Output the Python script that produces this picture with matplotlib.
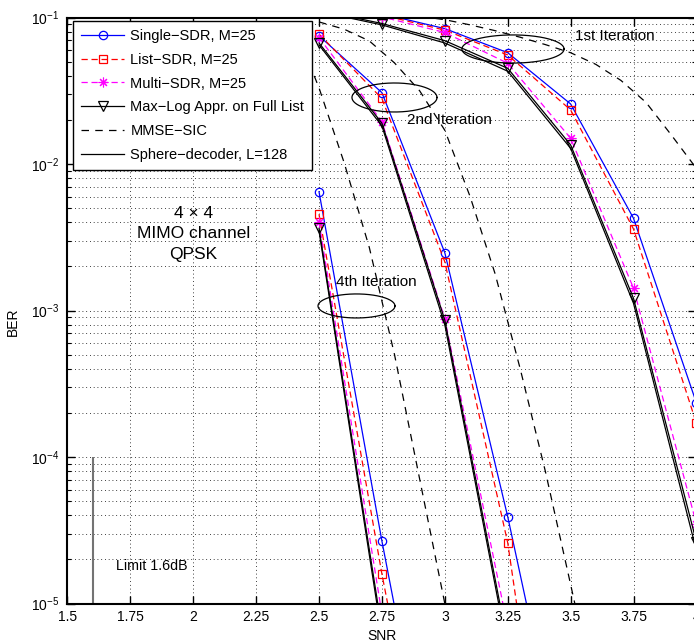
import numpy as np
import matplotlib
matplotlib.use("Agg")
import matplotlib.pyplot as plt
from matplotlib.ticker import FixedLocator, FixedFormatter, LogLocator, NullFormatter

plt.rcParams['font.family'] = ['Liberation Sans', 'DejaVu Sans']
plt.rcParams['mathtext.fontset'] = 'custom'
plt.rcParams['mathtext.rm'] = 'Liberation Sans'
plt.rcParams['mathtext.it'] = 'Liberation Sans:italic'
plt.rcParams['mathtext.bf'] = 'Liberation Sans:bold'

# ---------------- data ----------------
snr_it1 = [2.5, 2.75, 3.0, 3.25, 3.5, 3.75, 4.0]
single_it1 = [0.125, 0.106, 8.4e-2, 5.75e-2, 2.57e-2, 4.26e-3, 2.34e-4]
list_it1 = [0.123, 0.104, 8.2e-2, 5.55e-2, 2.34e-2, 3.6e-3, 1.7e-4]
multi_it1 = [0.118, 0.101, 7.9e-2, 4.87e-2, 1.5e-2, 1.42e-3, 3.5e-5]
maxlog_it1 = [0.112, 9.1e-2, 6.95e-2, 4.5e-2, 1.35e-2, 1.21e-3, 2.64e-5]
sphere_it1 = [0.110, 8.9e-2, 6.7e-2, 4.3e-2, 1.28e-2, 1.12e-3, 2.3e-5]

snr_it2 = [2.5, 2.75, 3.0, 3.25, 3.5]
single_it2 = [7.5e-2, 3.07e-2, 2.48e-3, 3.92e-5, 4e-7]
list_it2 = [7.7e-2, 2.8e-2, 2.15e-3, 2.6e-5, 3e-8]
multi_it2 = [7.3e-2, 1.95e-2, 8.8e-4, 6.9e-6, 1e-8]
maxlog_it2 = [6.7e-2, 1.9e-2, 8.6e-4, 5.3e-6, 1e-8]
sphere_it2 = [6.5e-2, 1.82e-2, 8.0e-4, 4.8e-6, 1e-8]

snr_it4 = [2.5, 2.75, 3.0]
single_it4 = [6.47e-3, 2.67e-5, 1.6e-7]
list_it4 = [4.54e-3, 1.59e-5, 1e-7]
multi_it4 = [4.03e-3, 8.5e-6, 5e-8]
maxlog_it4 = [3.64e-3, 6.6e-6, 4e-8]
sphere_it4 = [3.5e-3, 6.0e-6, 3e-8]

snr_mmse1 = [2.8, 2.9, 3.0, 3.1, 3.2, 3.3, 3.4, 3.5, 3.6, 3.7, 3.8, 3.9, 4.0, 4.1]
mmse_it1 = [0.107, 0.102, 0.0966, 0.0891, 0.0813, 0.0733, 0.0653, 0.0575,
            0.0479, 0.0372, 0.0263, 0.0158, 0.00933, 0.0050]
snr_mmse2 = [2.5, 2.6, 2.7, 2.8, 2.9, 3.0, 3.1, 3.2, 3.3, 3.4, 3.5, 3.6]
mmse_it2 = [0.0933, 0.0832, 0.0692, 0.0490, 0.0316, 0.0170, 6.03e-3, 1.78e-3,
            3.98e-4, 7.94e-5, 1.35e-5, 2.24e-6]
snr_mmse4 = [2.4, 2.5, 2.6, 2.7, 2.8, 2.9, 3.0, 3.1]
mmse_it4 = [0.0891, 0.0331, 0.0102, 2.69e-3, 5.01e-4, 7.08e-5, 1.0e-5, 1.41e-6]

limit_snr = 1.6
limit_ber = [1e-5, 1e-4]

xtick_vals = [1.5, 1.75, 2.0, 2.25, 2.5, 2.75, 3.0, 3.25, 3.5, 3.75, 4.0]
xtick_labels = ['1.5', '1.75', '2', '2.25', '2.5', '2.75', '3', '3.25', '3.5', '3.75', '4']

# ellipse annotations: (centre SNR, centre log10 BER, half width SNR, half height decades)
ell_it1 = (3.271, -1.215, 0.203, 0.096)
ell_it2 = (2.800, -1.546, 0.169, 0.099)
ell_it4 = (2.649, -2.969, 0.153, 0.082)

# ---------------- figure ----------------
fig = plt.figure(figsize=(6.94, 6.43), dpi=100)
ax = fig.add_axes([67.4/694, (643-603.5)/643, 629/694, 586/643])

lw = 0.9
groups = [
    (snr_it1, single_it1, list_it1, multi_it1, maxlog_it1, sphere_it1, True),
    (snr_it2, single_it2, list_it2, multi_it2, maxlog_it2, sphere_it2, False),
    (snr_it4, single_it4, list_it4, multi_it4, maxlog_it4, sphere_it4, False),
]
handles = {}
for snr, s, l, m, ml, sp, lab in groups:
    h1, = ax.semilogy(snr, s, '-', color='blue', lw=lw, marker='o', ms=6,
                      mfc='none', mec='blue', mew=0.9,
                      label='Single\u2212SDR, M=25' if lab else '_nolegend_')
    h2, = ax.semilogy(snr, l, '--', color='red', lw=lw, marker='s', ms=5.5,
                      mfc='none', mec='red', mew=0.9, dashes=(5, 3),
                      label='List\u2212SDR, M=25' if lab else '_nolegend_')
    h3, = ax.semilogy(snr, m, '--', color='magenta', lw=lw, marker=(8, 2, 0), ms=7,
                      mec='magenta', mew=0.8, dashes=(5, 3),
                      label='Multi\u2212SDR, M=25' if lab else '_nolegend_')
    h4, = ax.semilogy(snr, ml, '-', color='black', lw=lw, marker='v', ms=7,
                      mfc='none', mec='black', mew=0.9,
                      label='Max\u2212Log Appr. on Full List' if lab else '_nolegend_')
    h6, = ax.semilogy(snr, sp, '-', color='black', lw=lw,
                      label='Sphere\u2212decoder, L=128' if lab else '_nolegend_')
    if lab:
        handles = [h1, h2, h3, h4, None, h6]

for sx, sy, lab in [(snr_mmse1, mmse_it1, True), (snr_mmse2, mmse_it2, False),
                    (snr_mmse4, mmse_it4, False)]:
    h5, = ax.semilogy(sx, sy, '--', color='black', lw=lw, dashes=(6, 5),
                      label='MMSE\u2212SIC' if lab else '_nolegend_')
    if lab:
        handles[4] = h5

ax.vlines(limit_snr, limit_ber[0], limit_ber[1], color='0.45', lw=1.5)

t = np.linspace(0, 2*np.pi, 300)
for cx, cy, a, b in [ell_it1, ell_it2, ell_it4]:
    ax.plot(cx + a*np.cos(t), 10**(cy + b*np.sin(t)), color='black', lw=0.9)

ax.text(3.517, 10**-1.126, '1st Iteration', fontsize=11, va='center', ha='left')
ax.text(2.850, 10**-1.700, '2nd Iteration', fontsize=11, va='center', ha='left')
ax.text(2.567, 10**-2.803, '4th Iteration', fontsize=11, va='center', ha='left')
ax.text(2.0, 10**(-1-(234-17.5)/146.5), '4 \u00d7 4\nMIMO channel\nQPSK', fontsize=12.5,
        ha='center', va='center', linespacing=1.45)
ax.text(1.692, 10**-4.744, 'Limit 1.6dB', fontsize=10.3, va='center', ha='left')

ax.set_xlim(1.5, 4.0)
ax.set_ylim(1e-5, 1e-1)
ax.xaxis.set_major_locator(FixedLocator(xtick_vals))
ax.xaxis.set_major_formatter(FixedFormatter(xtick_labels))
ax.yaxis.set_major_locator(LogLocator(base=10, numticks=10))
ax.yaxis.set_minor_locator(LogLocator(base=10, subs=np.arange(2, 10), numticks=20))
ax.yaxis.set_minor_formatter(NullFormatter())

gridkw = dict(color='black', lw=0.6, linestyle=(0, (1, 3.5)))
ax.grid(True, which='major', axis='both', **gridkw)
ax.grid(True, which='minor', axis='y', **gridkw)

ax.tick_params(which='both', direction='in', top=True, right=True, labelsize=10)
ax.tick_params(which='major', length=6, width=1)
ax.tick_params(which='minor', length=3, width=0.8)
ax.tick_params(axis='x', pad=5)
ax.tick_params(axis='y', pad=6)
for sp in ax.spines.values():
    sp.set_linewidth(1.5)

ax.set_xlabel('SNR', fontsize=10, va='center')
ax.set_ylabel('BER', fontsize=10, va='center')
ax.yaxis.set_label_coords((13-67.4)/629, (603.5-322)/586)
ax.xaxis.set_label_coords(0.5, (603.5-636)/586)

leg = ax.legend(handles=handles, loc='upper left', bbox_to_anchor=(0.0084, 0.9945),
                borderaxespad=0, fontsize=10.5, numpoints=1, handlelength=3.0,
                labelspacing=0.68, fancybox=False, framealpha=1, edgecolor='black',
                borderpad=0.55, handletextpad=0.4)
leg.get_frame().set_linewidth(1.0)

fig.savefig('out.png', dpi=100)
